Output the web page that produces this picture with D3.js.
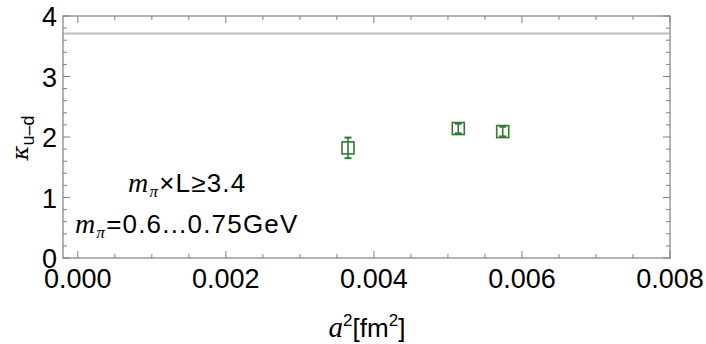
<!DOCTYPE html>
<html lang="en">
<head>
<meta charset="UTF-8">
<title>kappa u-d vs a^2</title>
<style>
  body { margin: 0; background: #fff; }
  svg text { font-family: "Liberation Sans", Arial, sans-serif; fill: #000; }
</style>
</head>
<body>
<div id="chart"></div>
<script src="https://d3js.org/d3.v7.min.js"></script>
<script>
// data
const aSquared = [0.00365, 0.00514, 0.00574];
const kappa    = [1.82, 2.14, 2.09];
const kappaErr = [0.17, 0.08, 0.08];
const refLine  = 3.71;
const xTicks   = [0, 0.002, 0.004, 0.006, 0.008];
const yTicks   = [0, 1, 2, 3, 4];

const width = 706, height = 344;
const margin = { top: 16, right: 36, bottom: 86, left: 63 };

const svg = d3.select('#chart').append('svg')
  .attr('width', width).attr('height', height);

const x = d3.scaleLinear().domain([-0.0002, 0.008])
  .range([margin.left, width - margin.right]);
const y = d3.scaleLinear().domain([0, 4])
  .range([height - margin.bottom, margin.top]);

const frame = '#808080';
const green = '#2f7a2f';

// reference line
svg.append('line')
  .attr('x1', x.range()[0]).attr('x2', x.range()[1])
  .attr('y1', y(refLine)).attr('y2', y(refLine))
  .attr('stroke', '#bdbdbd').attr('stroke-width', 2);

// ticks, inward on all four sides
const xMinor = d3.range(0, 0.00801, 0.0005);
const yMinor = d3.range(0, 4.001, 0.2);
const tickG = svg.append('g').attr('stroke', frame).attr('stroke-width', 1);
xMinor.forEach(v => {
  const major = xTicks.some(t => Math.abs(t - v) < 1e-9);
  const len = major ? 7 : 4;
  tickG.append('line').attr('x1', x(v)).attr('x2', x(v))
    .attr('y1', y(0)).attr('y2', y(0) - len);
  tickG.append('line').attr('x1', x(v)).attr('x2', x(v))
    .attr('y1', y(4)).attr('y2', y(4) + len);
});
yMinor.forEach(v => {
  const major = yTicks.some(t => Math.abs(t - v) < 1e-9);
  const len = major ? 7 : 4;
  tickG.append('line').attr('x1', x.range()[0]).attr('x2', x.range()[0] + len)
    .attr('y1', y(v)).attr('y2', y(v));
  tickG.append('line').attr('x1', x.range()[1]).attr('x2', x.range()[1] - len)
    .attr('y1', y(v)).attr('y2', y(v));
});

// frame
svg.append('rect')
  .attr('x', x.range()[0]).attr('y', y(4))
  .attr('width', x.range()[1] - x.range()[0])
  .attr('height', y(0) - y(4))
  .attr('fill', 'none').attr('stroke', frame).attr('stroke-width', 1.2);

// tick labels
svg.selectAll('.xlab').data(xTicks).enter().append('text')
  .attr('class', 'xlab')
  .attr('x', d => x(d)).attr('y', y(0) + 30)
  .attr('text-anchor', 'middle').style('font-size', '27px')
  .text(d => d3.format('.3f')(d));

svg.selectAll('.ylab').data(yTicks).enter().append('text')
  .attr('class', 'ylab')
  .attr('x', x.range()[0] - 6).attr('y', d => y(d) + 10)
  .attr('text-anchor', 'end').style('font-size', '27px')
  .text(d => d);

// axis titles
const yt = svg.append('text')
  .attr('transform', `translate(28, ${y(2) + 1}) rotate(-90)`)
  .attr('text-anchor', 'middle').style('font-size', '23px');
yt.append('tspan').style('font-style', 'italic').style('font-family', '"DejaVu Serif", serif').text('κ');
yt.append('tspan').attr('dy', 6).style('font-size', '18px').text('u\u2013d');

const xt = svg.append('text')
  .attr('x', 367).attr('y', 337)
  .attr('text-anchor', 'middle').style('font-size', '26px');
xt.append('tspan').style('font-style', 'italic').style('font-family', '"Liberation Serif", serif').style('font-size', '29px').text('a');
xt.append('tspan').attr('dy', -11).style('font-size', '17px').text('2');
xt.append('tspan').attr('dy', 11).text('[fm');
xt.append('tspan').attr('dy', -11).style('font-size', '17px').text('2');
xt.append('tspan').attr('dy', 11).text(']');

// annotations
function mpi(t) {
  t.append('tspan').style('font-style', 'italic').style('font-family', '"Liberation Serif", serif').style('font-size', '28px').text('m');
  t.append('tspan').attr('dy', 5).style('font-style', 'italic').style('font-family', '"Liberation Serif", serif').style('font-size', '17px').text('π');
}
const a1 = svg.append('text').attr('x', 128).attr('y', 192)
  .style('font-size', '26px').style('letter-spacing', '1.2px');
mpi(a1);
a1.append('tspan').attr('dy', -5).text('×L≥3.4');
const a2 = svg.append('text').attr('x', 75).attr('y', 233)
  .style('font-size', '26px').style('letter-spacing', '1.2px');
mpi(a2);
a2.append('tspan').attr('dy', -5).text('=0.6...0.75GeV');

// points with error bars
const pts = aSquared.map((v, i) => ({ x: v, y: kappa[i], e: kappaErr[i] }));
const pg = svg.append('g').attr('stroke', green).attr('fill', 'none');
pts.forEach(p => {
  const cx = x(p.x);
  pg.append('line').attr('x1', cx).attr('x2', cx)
    .attr('y1', y(p.y + p.e)).attr('y2', y(p.y - p.e)).attr('stroke-width', 1.6);
  [p.y + p.e, p.y - p.e].forEach(v => {
    pg.append('line').attr('x1', cx - 3.5).attr('x2', cx + 3.5)
      .attr('y1', y(v)).attr('y2', y(v)).attr('stroke-width', 2);
  });
  pg.append('rect').attr('x', cx - 6).attr('y', y(p.y) - 6)
    .attr('width', 12).attr('height', 12).attr('stroke-width', 1.6);
});
</script>
</body>
</html>
